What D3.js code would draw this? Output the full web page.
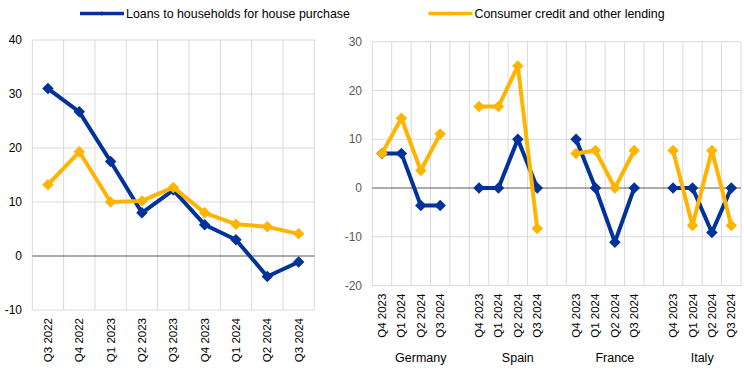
<!DOCTYPE html>
<html><head><meta charset="utf-8">
<script src="https://cdn.jsdelivr.net/npm/d3@7"></script>
<style>body{margin:0;background:#fff} svg{display:block} text{font-family:"Liberation Sans",Arial,sans-serif}</style>
</head><body><svg id="c" width="744" height="384"></svg>
<script>
const seriesNames = ["Loans to households for house purchase", "Consumer credit and other lending"];
const seriesColors = ["#003299", "#FFB400"];

const leftQuarters = ["Q3 2022","Q4 2022","Q1 2023","Q2 2023","Q3 2023","Q4 2023","Q1 2024","Q2 2024","Q3 2024"];
const leftHouse    = [31.0, 26.7, 17.5, 8.0, 12.2, 5.8, 3.0, -3.8, -1.1];
const leftConsumer = [13.2, 19.3, 10.0, 10.2, 12.7, 8.0, 5.9, 5.4, 4.1];
const leftTicks = [-10, 0, 10, 20, 30, 40];

const countries = ["Germany", "Spain", "France", "Italy"];
const rightQuarters = ["Q4 2023","Q1 2024","Q2 2024","Q3 2024"];
const houseGermany = [7.1, 7.1, -3.6, -3.6];
const houseSpain   = [0, 0, 10.0, 0];
const houseFrance  = [10.0, 0, -11.1, 0];
const houseItaly   = [0, 0, -9.1, 0];
const consGermany  = [7.1, 14.3, 3.6, 11.1];
const consSpain    = [16.7, 16.7, 25.0, -8.3];
const consFrance   = [7.1, 7.7, 0, 7.7];
const consItaly    = [7.7, -7.7, 7.7, -7.7];
const rightTicks = [-20, -10, 0, 10, 20, 30];

const svg = d3.select("#c");
const GRID = "#d9d9d9", ZERO = "#595959";

function diamond(g, pts, x, y, color, size) {
  g.selectAll(null).data(pts).enter().append("path")
    .attr("d", d3.symbol(d3.symbolSquare, size)())
    .attr("transform", d => `translate(${x(d)},${y(d)}) rotate(45)`)
    .attr("fill", color);
}

function panel(opts) {
  const { slots, series, ticks, xr, yr, labelColor, labelRight } = opts;
  const g = svg.append("g");
  const x = d3.scaleBand().domain(slots.map(s => s.key)).range(xr).padding(0);
  const y = d3.scaleLinear().domain([ticks[0], ticks[ticks.length - 1]]).range(yr);
  const bounds = slots.map(s => x(s.key)).concat([xr[1]]);
  g.selectAll(null).data(bounds).enter().append("line")
    .attr("x1", d => d).attr("x2", d => d).attr("y1", yr[0]).attr("y2", yr[1])
    .attr("stroke", GRID).attr("stroke-width", 1);
  g.selectAll(null).data(ticks.filter(t => t !== 0)).enter().append("line")
    .attr("x1", xr[0]).attr("x2", xr[1]).attr("y1", d => y(d)).attr("y2", d => y(d))
    .attr("stroke", GRID).attr("stroke-width", 1);
  g.append("line").attr("x1", xr[0]).attr("x2", xr[1]).attr("y1", y(0)).attr("y2", y(0))
    .attr("stroke", ZERO).attr("stroke-width", 1);
  g.selectAll(null).data(ticks).enter().append("text")
    .attr("x", labelRight).attr("y", d => y(d)).attr("dy", "0.35em")
    .attr("text-anchor", "end").attr("font-size", 12).attr("fill", labelColor)
    .text(d => d);
  const xl = slots.filter(s => s.label);
  g.selectAll(null).data(xl).enter().append("text")
    .attr("transform", s => `translate(${x(s.key) + x.bandwidth() / 2},${yr[0] + 8}) rotate(-90)`)
    .attr("dy", "0.35em").attr("text-anchor", "end").attr("font-size", 11.5).attr("fill", "#000")
    .text(s => s.label);
  series.forEach((vals, i) => {
    const pts = slots.map((s, j) => ({ key: s.key, v: vals[j] }));
    const line = d3.line().defined(d => d.v != null)
      .x(d => x(d.key) + x.bandwidth() / 2).y(d => y(d.v));
    g.append("path").attr("d", line(pts)).attr("fill", "none")
      .attr("stroke", seriesColors[i]).attr("stroke-width", 4).attr("stroke-linejoin", "round");
    diamond(g, pts.filter(d => d.v != null), d => x(d.key) + x.bandwidth() / 2, d => y(d.v), seriesColors[i], 66);
  });
  return { x, y, g };
}

const leftSlots = leftQuarters.map(q => ({ key: q, label: q }));
panel({ slots: leftSlots, series: [leftHouse, leftConsumer], ticks: leftTicks,
  xr: [32.3, 314.3], yr: [310, 40], labelColor: "#000", labelRight: 22 });

const houseByCountry = [houseGermany, houseSpain, houseFrance, houseItaly];
const consByCountry = [consGermany, consSpain, consFrance, consItaly];
const rightSlots = [], rh = [], rc = [], groups = [];
countries.forEach((c, ci) => {
  const start = rightSlots.length;
  rightQuarters.forEach((q, qi) => {
    rightSlots.push({ key: c + "|" + q, label: q });
    rh.push(houseByCountry[ci][qi]); rc.push(consByCountry[ci][qi]);
  });
  if (ci < countries.length - 1) {
    rightSlots.push({ key: "gap" + ci, label: null }); rh.push(null); rc.push(null);
  }
  groups.push({ name: c, first: rightSlots[start].key, last: rightSlots[rightSlots.length - 1].key });
});
const R = panel({ slots: rightSlots, series: [rh, rc], ticks: rightTicks,
  xr: [372.3, 741], yr: [285.6, 41.7], labelColor: "#595959", labelRight: 362 });
R.g.selectAll(null).data(groups).enter().append("text")
  .attr("x", d => (R.x(d.first) + R.x(d.last) + R.x.bandwidth()) / 2)
  .attr("y", 362).attr("text-anchor", "middle").attr("font-size", 12.5).attr("fill", "#000")
  .text(d => d.name);

const legendX = [80, 428.5];
const lg = svg.append("g");
seriesNames.forEach((n, i) => {
  const lx = legendX[i];
  lg.append("line").attr("x1", lx).attr("x2", lx + 44).attr("y1", 13.5).attr("y2", 13.5)
    .attr("stroke", seriesColors[i]).attr("stroke-width", 3.5);
  lg.append("path").attr("d", d3.symbol(d3.symbolSquare, 10)())
    .attr("transform", `translate(${lx + 22},13.5) rotate(45)`).attr("fill", seriesColors[i]);
  lg.append("text").attr("x", lx + 46).attr("y", 13.5).attr("dy", "0.35em")
    .attr("font-size", 12.4).attr("fill", "#000").text(n);
});
</script></body></html>
